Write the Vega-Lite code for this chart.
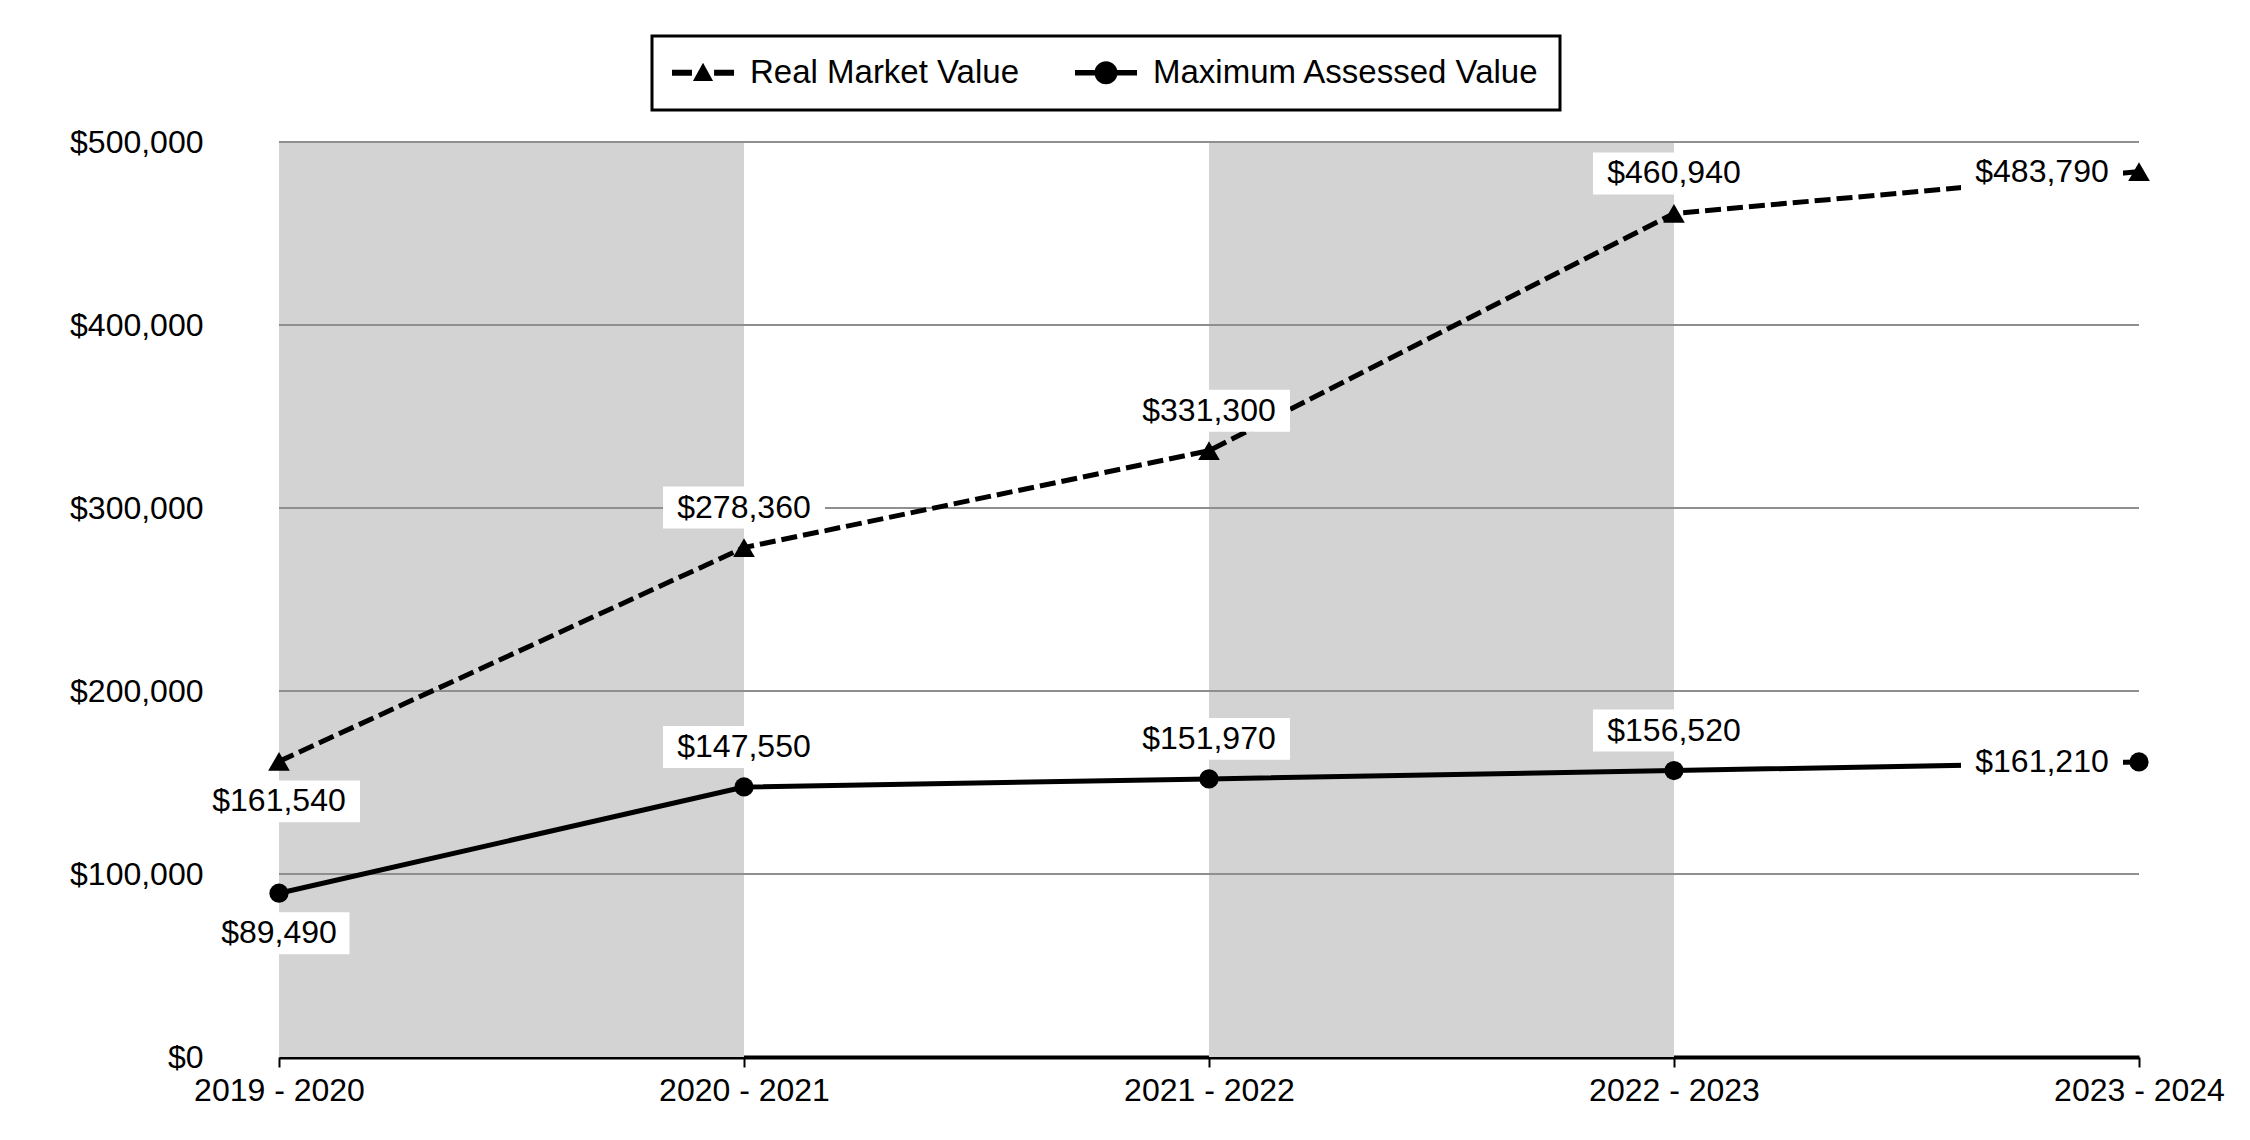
{
  "$schema": "https://vega.github.io/schema/vega-lite/v6.json",
  "width": 1860,
  "height": 915,
  "autosize": "none",
  "padding": {"left": 279, "top": 142, "right": 111, "bottom": 83},
  "background": "white",
  "datasets": {
    "values": [
      {"year": "2019 - 2020", "series": "Real Market Value", "value": 161540},
      {"year": "2020 - 2021", "series": "Real Market Value", "value": 278360},
      {"year": "2021 - 2022", "series": "Real Market Value", "value": 331300},
      {"year": "2022 - 2023", "series": "Real Market Value", "value": 460940},
      {"year": "2023 - 2024", "series": "Real Market Value", "value": 483790},
      {"year": "2019 - 2020", "series": "Maximum Assessed Value", "value": 89490},
      {"year": "2020 - 2021", "series": "Maximum Assessed Value", "value": 147550},
      {"year": "2021 - 2022", "series": "Maximum Assessed Value", "value": 151970},
      {"year": "2022 - 2023", "series": "Maximum Assessed Value", "value": 156520},
      {"year": "2023 - 2024", "series": "Maximum Assessed Value", "value": 161210}
    ],
    "bands": [
      {"band": 1, "year": "2019 - 2020", "top": 500000, "bottom": 0},
      {"band": 1, "year": "2020 - 2021", "top": 500000, "bottom": 0},
      {"band": 2, "year": "2021 - 2022", "top": 500000, "bottom": 0},
      {"band": 2, "year": "2022 - 2023", "top": 500000, "bottom": 0}
    ],
    "grid": [
      {"value": 100000}, {"value": 200000}, {"value": 300000}, {"value": 400000}, {"value": 500000}
    ]
  },
  "encoding": {
    "x": {
      "field": "year", "type": "ordinal",
      "scale": {"type": "point", "padding": 0, "domain": ["2019 - 2020", "2020 - 2021", "2021 - 2022", "2022 - 2023", "2023 - 2024"]},
      "axis": {"title": null}
    },
    "y": {
      "field": "value", "type": "quantitative",
      "scale": {"domain": [0, 500000], "nice": false, "zero": true},
      "axis": {"title": null, "format": "$,.0f", "values": [0, 100000, 200000, 300000, 400000, 500000]}
    }
  },
  "resolve": {"scale": {"shape": "independent"}},
  "layer": [
    {
      "data": {"name": "bands"},
      "mark": {"type": "area", "color": "#d3d3d3", "opacity": 1},
      "encoding": {
        "y": {"field": "top", "type": "quantitative", "axis": {"title": null}},
        "y2": {"field": "bottom"},
        "detail": {"field": "band", "type": "nominal"}
      }
    },
    {
      "data": {"name": "grid"},
      "mark": {"type": "rule", "color": "#8f8f8f", "strokeWidth": 2},
      "encoding": {
        "x": null,
        "y": {"field": "value", "type": "quantitative", "axis": {"title": null}}
      }
    },
    {
      "data": {"name": "values"},
      "transform": [{"filter": "datum.series === 'Real Market Value'"}],
      "mark": {"type": "line", "color": "black", "strokeWidth": 5, "strokeCap": "butt", "strokeDash": [16, 6]},
      "encoding": {}
    },
    {
      "data": {"name": "values"},
      "transform": [{"filter": "datum.series === 'Maximum Assessed Value'"}],
      "mark": {"type": "line", "color": "black", "strokeWidth": 5, "strokeCap": "butt"},
      "encoding": {}
    },
    {
      "data": {"name": "values"},
      "transform": [{"filter": "datum.year === '2019 - 2020'"}],
      "mark": {"type": "point", "filled": true, "color": "white", "opacity": 1, "strokeWidth": 0, "size": 26244, "yOffset": 40},
      "encoding": {
        "shape": {"condition": {"test": "datum.value < 100000", "value": "M-0.87,-0.259H0.87V0.259H-0.87Z"}, "value": "M-1,-0.259H1V0.259H-1Z"}
      }
    },
    {
      "data": {"name": "values"},
      "transform": [{"filter": "datum.year !== '2019 - 2020' && datum.year !== '2023 - 2024'"}],
      "mark": {"type": "point", "filled": true, "color": "white", "opacity": 1, "strokeWidth": 0, "size": 26244, "yOffset": -40},
      "encoding": {
        "shape": {"value": "M-1,-0.259H1V0.259H-1Z"}
      }
    },
    {
      "data": {"name": "values"},
      "transform": [{"filter": "datum.year === '2023 - 2024'"}],
      "mark": {"type": "point", "filled": true, "color": "white", "opacity": 1, "strokeWidth": 0, "size": 26244, "xOffset": -97},
      "encoding": {
        "shape": {"value": "M-1,-0.259H1V0.259H-1Z"}
      }
    },
    {
      "data": {"name": "values"},
      "mark": {"type": "point", "filled": true, "color": "black", "opacity": 1, "strokeWidth": 0},
      "encoding": {
        "size": {"condition": {"test": "datum.series === 'Real Market Value'", "value": 470}, "value": 370},
        "shape": {
          "field": "series", "type": "nominal",
          "scale": {"domain": ["Real Market Value", "Maximum Assessed Value"], "range": ["triangle-up", "circle"]},
          "legend": null
        }
      }
    },
    {
      "data": {"name": "values"},
      "transform": [{"filter": "false"}],
      "mark": {"type": "point", "filled": true, "color": "black", "opacity": 1, "strokeWidth": 0},
      "encoding": {
        "shape": {
          "field": "series", "type": "nominal",
          "scale": {
            "domain": ["Real Market Value", "Maximum Assessed Value"],
            "range": [
              "M-1,-0.18H0.21V0.18H-1Z M1.55,-0.18H2.76V0.18H1.55Z M0.88,-0.6L1.49,0.5L0.27,0.5Z",
              "M-1,-0.17H0.21V0.17H-1Z M1.55,-0.17H2.76V0.17H1.55Z M1.58,0A0.7,0.7 0 1,1 0.18,0A0.7,0.7 0 1,1 1.58,0Z"
            ]
          },
          "legend": {
            "title": null,
            "orient": "none",
            "legendX": 373,
            "legendY": -106,
            "direction": "horizontal",
            "columns": 2,
            "labelFont": "Liberation Sans",
            "labelFontSize": 33,
            "labelColor": "black",
            "labelLimit": 1000,
            "labelOffset": 45,
            "columnPadding": 55,
            "padding": 20,
            "strokeColor": "black",
            "fillColor": "white",
            "symbolSize": 1089,
            "symbolFillColor": "black",
            "symbolStrokeWidth": 0,
            "symbolOpacity": 1
          }
        }
      }
    },
    {
      "data": {"name": "values"},
      "transform": [{"filter": "datum.year === '2019 - 2020'"}],
      "mark": {"type": "text", "font": "Liberation Sans", "fontSize": 32, "color": "black", "baseline": "middle", "align": "center", "dy": 40},
      "encoding": {"text": {"field": "value", "type": "quantitative", "format": "$,.0f"}}
    },
    {
      "data": {"name": "values"},
      "transform": [{"filter": "datum.year !== '2019 - 2020' && datum.year !== '2023 - 2024'"}],
      "mark": {"type": "text", "font": "Liberation Sans", "fontSize": 32, "color": "black", "baseline": "middle", "align": "center", "dy": -40},
      "encoding": {"text": {"field": "value", "type": "quantitative", "format": "$,.0f"}}
    },
    {
      "data": {"name": "values"},
      "transform": [{"filter": "datum.year === '2023 - 2024'"}],
      "mark": {"type": "text", "font": "Liberation Sans", "fontSize": 32, "color": "black", "baseline": "middle", "align": "center", "dx": -97},
      "encoding": {"text": {"field": "value", "type": "quantitative", "format": "$,.0f"}}
    }
  ],
  "config": {
    "view": {"stroke": null},
    "legend": {"strokeWidth": 3},
    "axisX": {
      "domainColor": "black", "domainWidth": 4,
      "tickColor": "black", "tickWidth": 2, "tickSize": 10,
      "labelFont": "Liberation Sans", "labelFontSize": 32, "labelColor": "black",
      "labelPadding": 8, "labelAngle": 0, "grid": false
    },
    "axisY": {
      "domain": false, "ticks": false, "tickSize": 0, "grid": false,
      "labelFont": "Liberation Sans", "labelFontSize": 32, "labelColor": "black",
      "labelPadding": 76
    }
  }
}
